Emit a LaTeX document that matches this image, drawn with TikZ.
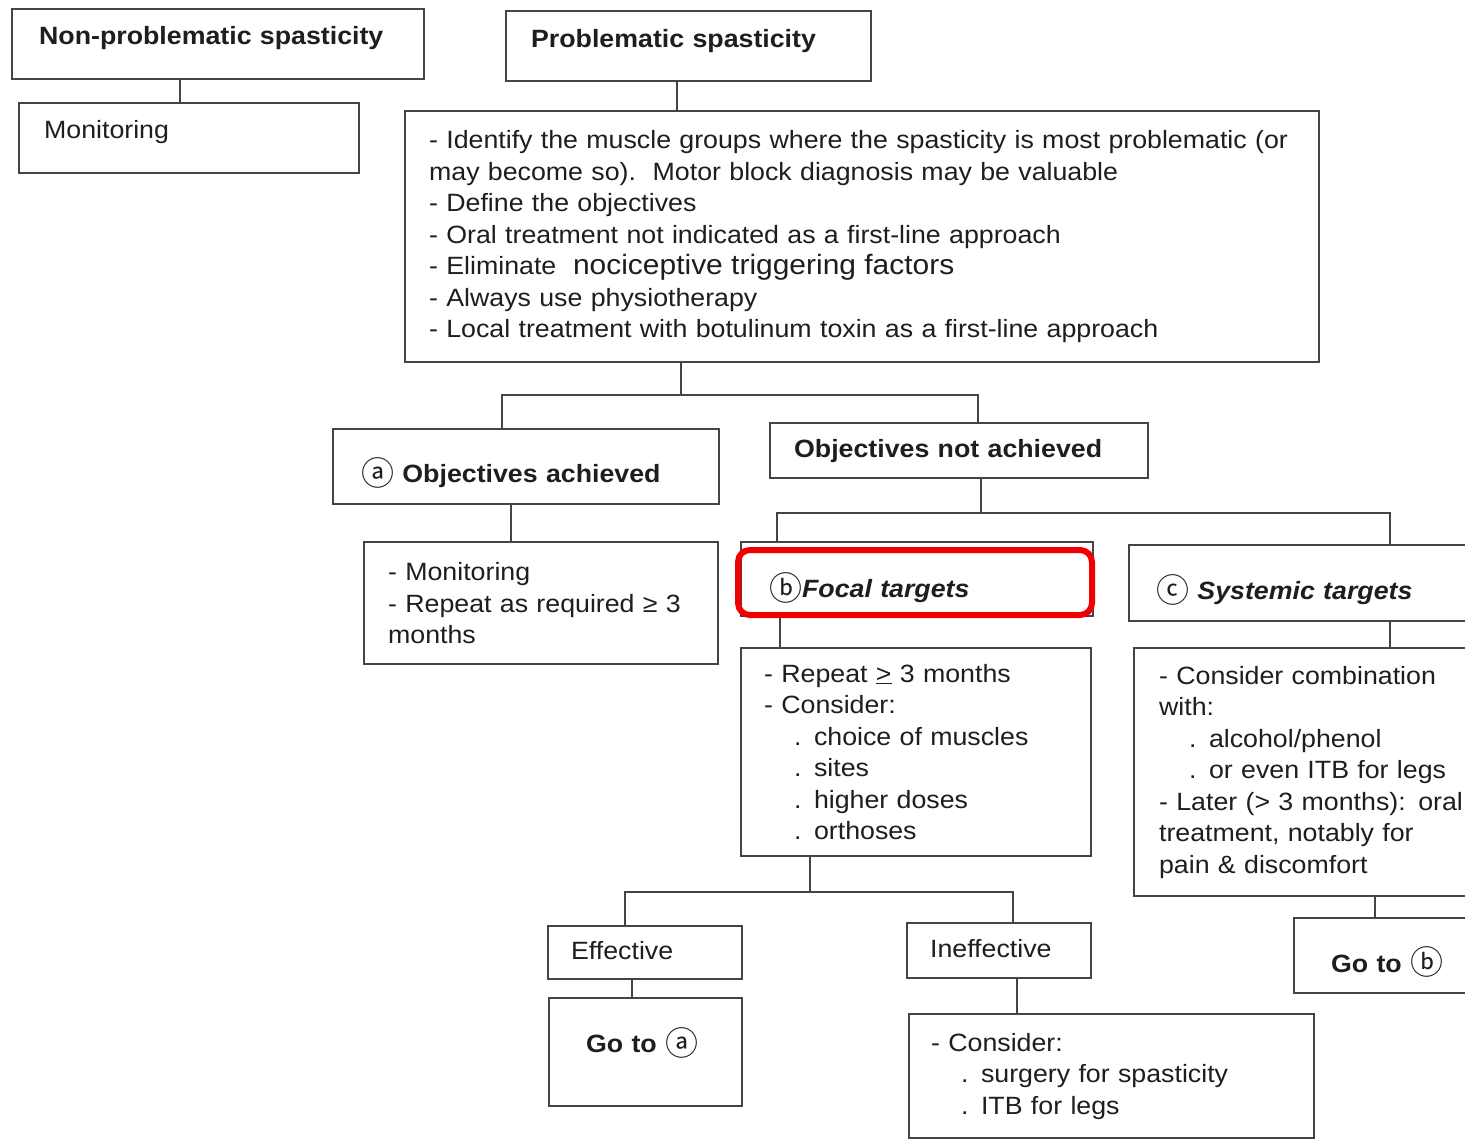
\documentclass[tikz,border=0pt]{standalone}
\usepackage{fontspec}
\setmainfont{Liberation Sans}[FakeStretch=1.07]
\newfontfamily\circfont{Noto Sans CJK JP}[Scale=1.32]
\newcommand\encl[1]{\raisebox{-2.5pt}{\circfont\mdseries\upshape #1}}
\definecolor{boxgray}{HTML}{444444}
\definecolor{ink}{HTML}{1E1E1E}
\definecolor{hired}{HTML}{F00000}
\tikzset{
  box/.style={draw=boxgray, line width=2.2pt, anchor=north west, align=left, text=ink, inner ysep=0pt},
  txtplain/.style={font=\fontsize{25}{31.5}\selectfont},
  txtbold/.style={font=\fontsize{25}{31.5}\selectfont\bfseries},
  txtbi/.style={font=\fontsize{25}{31.5}\selectfont\bfseries\itshape},
  oneline/.style={text height=18pt, text depth=5pt},
  link/.style={draw=boxgray, line width=2pt},
  redframe/.style={draw=hired, line width=6pt, rounded corners=12pt, anchor=north west, inner sep=0pt}
}
\begin{document}
\begin{tikzpicture}[x=1pt,y=-1pt]
    \useasboundingbox (0,0) rectangle (1465,1140);
    \fill[white] (0,0) rectangle (1465,1140);
    \clip (0,0) rectangle (1465,1140);

    \node[box, txtbold, oneline, text depth=17pt, inner xsep=27pt, text width=358pt, minimum height=70pt] (npro) at (11,8) {Non-problematic spasticity};
    \node[box, txtplain, oneline, text depth=17pt, inner xsep=25pt, text width=290pt, minimum height=70pt] (mon) at (18,102) {Monitoring};
    \node[box, txtbold, oneline, text depth=15pt, inner xsep=25pt, text width=315pt, minimum height=70pt] (prob) at (505,10) {Problematic spasticity};
    \node[box, txtplain, inner xsep=24pt, text width=866pt, minimum height=251pt] (aims) at (404,110) {- Identify the muscle groups where the spasticity is most problematic (or\\may become so).\ \ Motor block diagnosis may be valuable\\- Define the objectives\\- Oral treatment not indicated as a first-line approach\\- Eliminate\ \ {\fontsize{28}{31.5}\selectfont nociceptive triggering factors}\\- Always use physiotherapy\\- Local treatment with botulinum toxin as a first-line approach};

    \node[box, txtbold, oneline, text height=37pt, inner xsep=28pt, text width=330pt, minimum height=75pt] (met) at (332,428) {\encl{ⓐ} Objectives achieved};
    \node[box, txtbold, oneline, inner xsep=24pt, text width=330pt, minimum height=55pt] (unmet) at (769,422) {Objectives not achieved};
    \node[box, txtplain, inner xsep=24pt, text width=306pt, minimum height=122pt] (metnext) at (363,541) {- Monitoring\\- Repeat as required ≥ 3\\months};

    \node[box, txtbi, oneline, text height=42pt, inner xsep=28pt, text width=296pt, minimum height=74pt] (focal) at (740,541) {\encl{ⓑ}Focal targets};
    \node[box, txtbi, oneline, text height=38pt, inner xsep=27pt, text width=346pt, minimum height=76pt] (sys) at (1128,544) {\encl{ⓒ} Systemic targets};
    \node[redframe, minimum width=354pt, minimum height=65pt] (focalmark) at (735,547) {};

    \node[box, txtplain, inner xsep=23pt, text width=304pt, minimum height=208pt] (focalnext) at (740,647) {- Repeat \underline{>} 3 months\\- Consider:\\\hspace*{30pt}. choice of muscles\\\hspace*{30pt}. sites\\\hspace*{30pt}. higher doses\\\hspace*{30pt}. orthoses};
    \node[box, txtplain, inner xsep=25pt, text width=350pt, minimum height=248pt] (sysnext) at (1133,647) {- Consider combination\\with:\\\hspace*{30pt}. alcohol/phenol\\\hspace*{30pt}. or even ITB for legs\\- Later (> 3 months): oral\\treatment, notably for\\pain \& discomfort};

    \node[box, txtplain, oneline, inner xsep=23pt, text width=148pt, minimum height=53pt] (eff) at (547,925) {Effective};
    \node[box, txtbold, oneline, text depth=17pt, inner xsep=37pt, text width=119pt, minimum height=108pt] (gotoa) at (548,997) {Go to \encl{ⓐ}};
    \node[box, txtplain, oneline, inner xsep=23pt, text width=138pt, minimum height=55pt] (ineff) at (906,922) {Ineffective};
    \node[box, txtplain, inner xsep=22pt, text width=361pt, minimum height=124pt] (ineffnext) at (908,1013) {- Consider:\\\hspace*{30pt}. surgery for spasticity\\\hspace*{30pt}. ITB for legs};
    \node[box, txtbold, oneline, text height=38pt, inner xsep=37pt, text width=130pt, minimum height=75pt] (gotob) at (1293,917) {Go to \encl{ⓑ}};

    \coordinate (fork1) at (681,395);
    \coordinate (fork2) at (981,513);
    \coordinate (fork3) at (810,892);
    \draw[link] (npro.south -| 180,0) -- (mon.north -| 180,0);
    \draw[link] (prob.south -| 677,0) -- (aims.north -| 677,0);
    \draw[link] (aims.south -| fork1) -- (fork1);
    \draw[link] (met.north -| 502,0) |- (fork1) -| (unmet.north -| 978,0);
    \draw[link] (met.south -| 511,0) -- (metnext.north -| 511,0);
    \draw[link] (unmet.south -| fork2) -- (fork2);
    \draw[link] (focal.north -| 777,0) |- (fork2) -| (sys.north -| 1390,0);
    \draw[link] (focal.south -| 780,0) -- (focalnext.north -| 780,0);
    \draw[link] (sys.south -| 1390,0) -- (sysnext.north -| 1390,0);
    \draw[link] (focalnext.south -| fork3) -- (fork3);
    \draw[link] (eff.north -| 625,0) |- (fork3) -| (ineff.north -| 1013,0);
    \draw[link] (eff.south -| 632,0) -- (gotoa.north -| 632,0);
    \draw[link] (ineff.south -| 1017,0) -- (ineffnext.north -| 1017,0);
    \draw[link] (sysnext.south -| 1375,0) -- (gotob.north -| 1375,0);
\end{tikzpicture}
\end{document}
